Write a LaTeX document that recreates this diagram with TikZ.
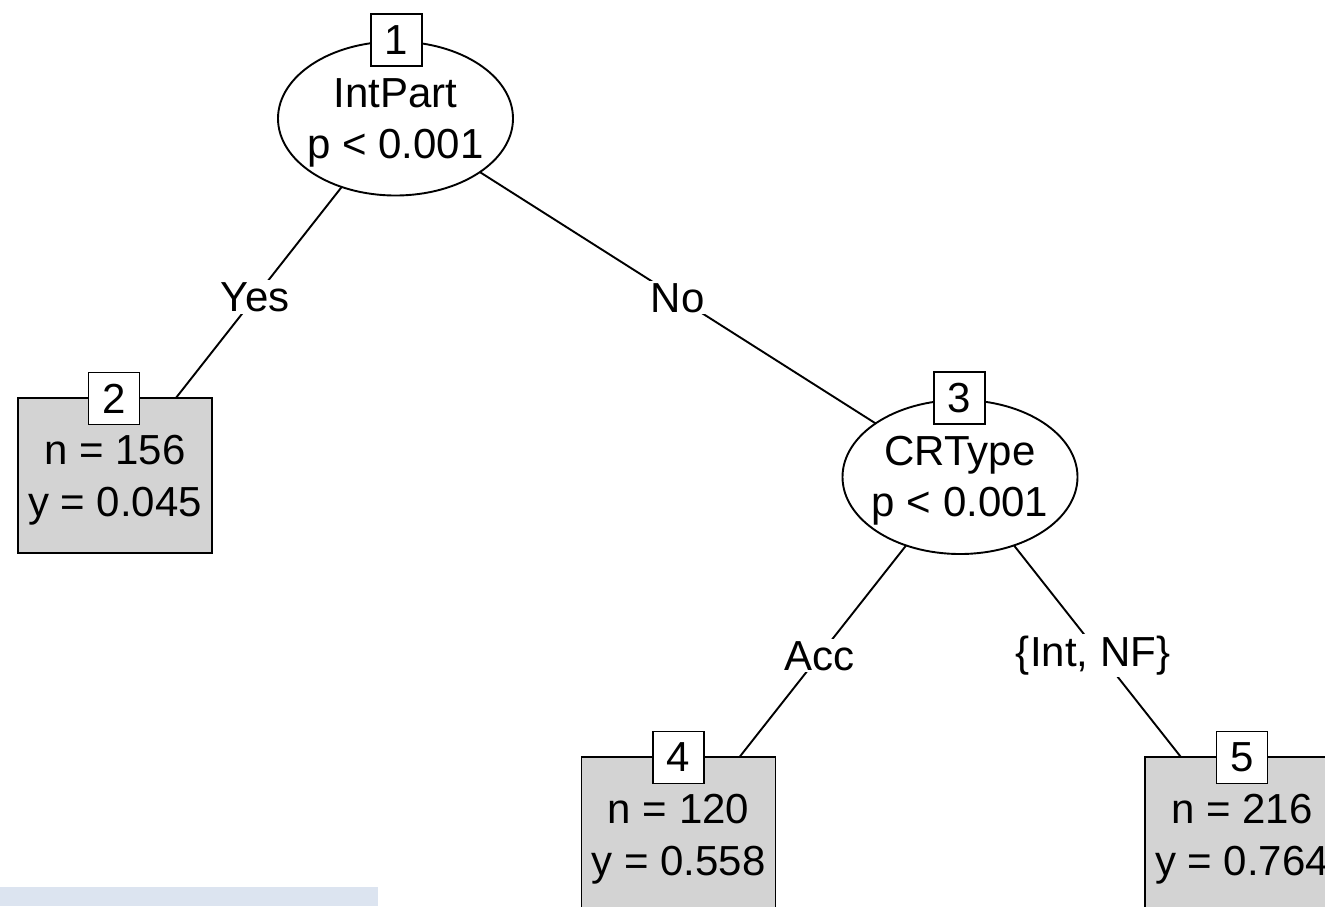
\documentclass[tikz,border=0pt]{standalone}
\usepackage{fontspec}
\setmainfont{Liberation Sans}
\usetikzlibrary{backgrounds,shapes.geometric}
\definecolor{leafgray}{HTML}{D3D3D3}
\definecolor{bandblue}{HTML}{DCE4F0}
\tikzset{
  treefont/.style={font=\fontsize{42}{51}\selectfont},
  ellnode/.style={draw, line width=1.9pt, fill=white, ellipse, minimum width=235pt, minimum height=154pt, inner sep=0pt},
  leafnode/.style={draw, line width=1.9pt, fill=leafgray, rectangle, minimum width=194pt, minimum height=155pt, inner sep=0pt},
  idbox/.style={draw, line width=1.9pt, fill=white, rectangle, minimum width=51pt, minimum height=52pt, inner sep=0pt, treefont},
  txt/.style={anchor=base, inner sep=0pt, treefont},
  edgeline/.style={line width=1.9pt},
  edgelabel/.style={fill=white, inner sep=2pt, treefont}
}
\begin{document}
\begin{tikzpicture}[x=1pt,y=-1pt]
\useasboundingbox (0,0) rectangle (1325,906);
\clip (0,0) rectangle (1325,906);
% inner nodes
\node[ellnode] (n1) at (395.5,118.5) {};
\node[ellnode] (n3) at (960,477) {};
% leaves
\node[leafnode] (n2) at (115,475.5) {};
\node[leafnode] (n4) at (678.5,834.5) {};
\node[leafnode] (n5) at (1242,834.5) {};
% id boxes
\node[idbox] (id1) at (396.5,40) {1};
\node[idbox] (id2) at (114,398.5) {2};
\node[idbox] (id3) at (959.5,398) {3};
\node[idbox] (id4) at (678.5,757.5) {4};
\node[idbox] (id5) at (1242,757.5) {5};
% texts
\node[txt] (t1a) at (395.5,107) {IntPart};
\node[txt] (t1b) at (395.5,158) {p < 0.001};
\node[txt] (t3a) at (960,465.5) {CRType};
\node[txt] (t3b) at (960,516.5) {p < 0.001};
\node[txt] (t2a) at (115,464) {n = 156};
\node[txt] (t2b) at (115,516) {y = 0.045};
\node[txt] (t4a) at (678.5,823) {n = 120};
\node[txt] (t4b) at (678.5,875) {y = 0.558};
\node[txt] (t5a) at (1242,823) {n = 216};
\node[txt] (t5b) at (1242,875) {y = 0.764};
% edges
\begin{scope}[on background layer]
\draw[edgeline] (n1.center) -- node[edgelabel] (e12) {Yes} (n2.center);
\draw[edgeline] (n1.center) -- node[edgelabel] (e13) {No} (n3.center);
\draw[edgeline] (n3.center) -- node[edgelabel] (e34) {Acc} (n4.center);
\draw[edgeline] (n3.center) -- node[edgelabel, xshift=-8pt] (e35) {\{Int, NF\}} (n5.center);
\end{scope}
% band
\fill[bandblue] (0,887) rectangle (378,906);
\end{tikzpicture}
\end{document}
